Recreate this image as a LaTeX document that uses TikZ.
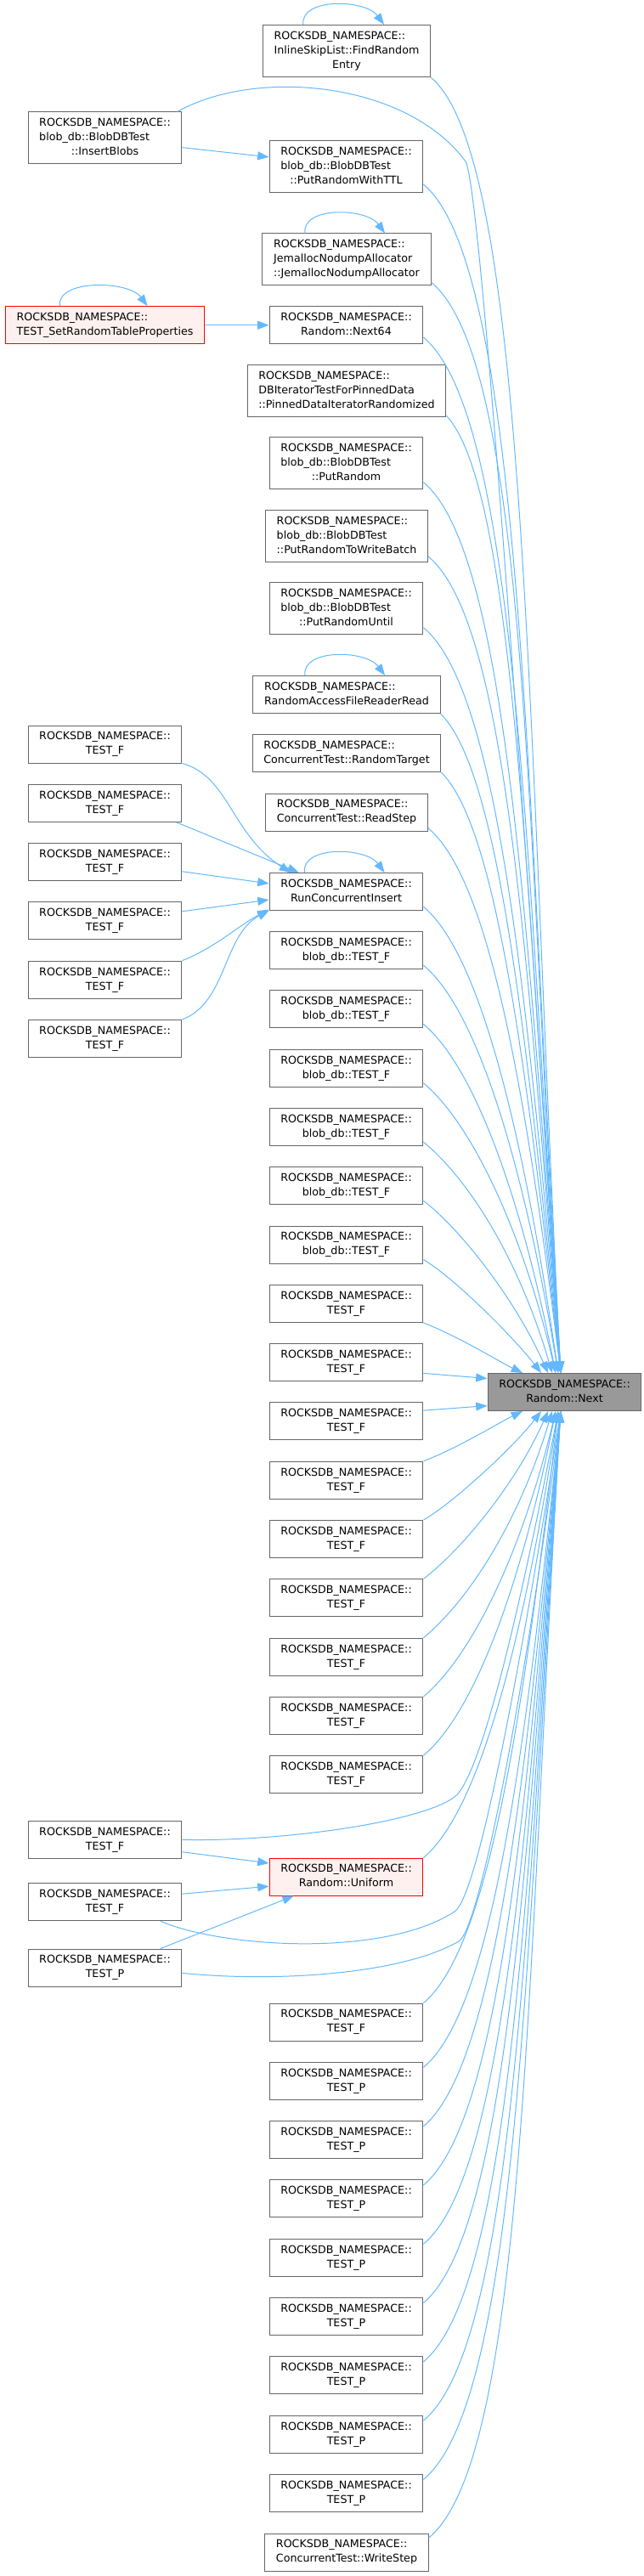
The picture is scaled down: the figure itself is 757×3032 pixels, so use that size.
\documentclass[tikz,border=0pt]{standalone}
\usepackage{fontspec}
\setmainfont{DejaVu Sans}
\usetikzlibrary{arrows.meta}
\definecolor{edgeblue}{HTML}{63B8FF}
\definecolor{boxgrey}{HTML}{666666}
\definecolor{nextfill}{HTML}{999999}
\definecolor{hotfill}{HTML}{FFF0F0}
\newcommand{\fnbox}[1]{\begin{tabular}{@{}l@{}}#1\end{tabular}}
\newcommand{\lastln}[1]{\multicolumn{1}{@{}c@{}}{#1}}

\begin{document}
\begin{tikzpicture}[x=0.75pt,y=-0.75pt,
  fnode/.style={draw=boxgrey, fill=white, line width=0.75pt, inner xsep=9.9pt, inner ysep=3.75pt, font=\fontsize{9.5}{12.75}\selectfont},
  hotnode/.style={fnode, draw=red, fill=hotfill},
  mainnode/.style={fnode, fill=nextfill},
  call/.style={draw=edgeblue, line width=0.75pt, -{Triangle[length=10pt,width=7.5pt]}}]
\useasboundingbox (0,0) rectangle (757,3032);
\node[fnode] (findentry) at (408,60) {\fnbox{ROCKSDB\_NAMESPACE::\\InlineSkipList::FindRandom\\\lastln{Entry}}};
\node[fnode] (insblobs) at (123.5,162.5) {\fnbox{ROCKSDB\_NAMESPACE::\\blob\_db::BlobDBTest\\\lastln{::InsertBlobs}}};
\node[fnode] (putttl) at (407.5,196) {\fnbox{ROCKSDB\_NAMESPACE::\\blob\_db::BlobDBTest\\\lastln{::PutRandomWithTTL}}};
\node[fnode] (jemalloc) at (408,305.5) {\fnbox{ROCKSDB\_NAMESPACE::\\JemallocNodumpAllocator\\\lastln{::JemallocNodumpAllocator}}};
\node[hotnode] (setprops) at (123.5,382.7) {\fnbox{ROCKSDB\_NAMESPACE::\\\lastln{TEST\_SetRandomTableProperties}}};
\node[fnode] (next64) at (407.5,382.7) {\fnbox{ROCKSDB\_NAMESPACE::\\\lastln{Random::Next64}}};
\node[fnode] (pinned) at (408,460) {\fnbox{ROCKSDB\_NAMESPACE::\\DBIteratorTestForPinnedData\\\lastln{::PinnedDataIteratorRandomized}}};
\node[fnode] (putrand) at (407.5,545) {\fnbox{ROCKSDB\_NAMESPACE::\\blob\_db::BlobDBTest\\\lastln{::PutRandom}}};
\node[fnode] (putbatch) at (408,631) {\fnbox{ROCKSDB\_NAMESPACE::\\blob\_db::BlobDBTest\\\lastln{::PutRandomToWriteBatch}}};
\node[fnode] (putuntil) at (407.5,716) {\fnbox{ROCKSDB\_NAMESPACE::\\blob\_db::BlobDBTest\\\lastln{::PutRandomUntil}}};
\node[fnode] (rafread) at (408,817.5) {\fnbox{ROCKSDB\_NAMESPACE::\\\lastln{RandomAccessFileReaderRead}}};
\node[fnode] (randtarget) at (408,886.7) {\fnbox{ROCKSDB\_NAMESPACE::\\\lastln{ConcurrentTest::RandomTarget}}};
\node[fnode] (readstep) at (408,956) {\fnbox{ROCKSDB\_NAMESPACE::\\\lastln{ConcurrentTest::ReadStep}}};
\node[fnode] (runci) at (407.5,1049.5) {\fnbox{ROCKSDB\_NAMESPACE::\\\lastln{RunConcurrentInsert}}};
\node[fnode] (lf1) at (123.5,876) {\fnbox{ROCKSDB\_NAMESPACE::\\\lastln{TEST\_F}}};
\node[fnode] (lf2) at (123.5,945.3) {\fnbox{ROCKSDB\_NAMESPACE::\\\lastln{TEST\_F}}};
\node[fnode] (lf3) at (123.5,1014.6) {\fnbox{ROCKSDB\_NAMESPACE::\\\lastln{TEST\_F}}};
\node[fnode] (lf4) at (123.5,1083.9) {\fnbox{ROCKSDB\_NAMESPACE::\\\lastln{TEST\_F}}};
\node[fnode] (lf5) at (123.5,1153.2) {\fnbox{ROCKSDB\_NAMESPACE::\\\lastln{TEST\_F}}};
\node[fnode] (lf6) at (123.5,1222.5) {\fnbox{ROCKSDB\_NAMESPACE::\\\lastln{TEST\_F}}};
\node[fnode] (bf1) at (407.5,1118.5) {\fnbox{ROCKSDB\_NAMESPACE::\\\lastln{blob\_db::TEST\_F}}};
\node[fnode] (bf2) at (407.5,1187.8) {\fnbox{ROCKSDB\_NAMESPACE::\\\lastln{blob\_db::TEST\_F}}};
\node[fnode] (bf3) at (407.5,1257.1) {\fnbox{ROCKSDB\_NAMESPACE::\\\lastln{blob\_db::TEST\_F}}};
\node[fnode] (bf4) at (407.5,1326.4) {\fnbox{ROCKSDB\_NAMESPACE::\\\lastln{blob\_db::TEST\_F}}};
\node[fnode] (bf5) at (407.5,1395.7) {\fnbox{ROCKSDB\_NAMESPACE::\\\lastln{blob\_db::TEST\_F}}};
\node[fnode] (bf6) at (407.5,1465) {\fnbox{ROCKSDB\_NAMESPACE::\\\lastln{blob\_db::TEST\_F}}};
\node[fnode] (tf1) at (407.5,1534.3) {\fnbox{ROCKSDB\_NAMESPACE::\\\lastln{TEST\_F}}};
\node[fnode] (tf2) at (407.5,1603.6) {\fnbox{ROCKSDB\_NAMESPACE::\\\lastln{TEST\_F}}};
\node[fnode] (tf3) at (407.5,1672.9) {\fnbox{ROCKSDB\_NAMESPACE::\\\lastln{TEST\_F}}};
\node[fnode] (tf4) at (407.5,1742.2) {\fnbox{ROCKSDB\_NAMESPACE::\\\lastln{TEST\_F}}};
\node[fnode] (tf5) at (407.5,1811.5) {\fnbox{ROCKSDB\_NAMESPACE::\\\lastln{TEST\_F}}};
\node[fnode] (tf6) at (407.5,1880.8) {\fnbox{ROCKSDB\_NAMESPACE::\\\lastln{TEST\_F}}};
\node[fnode] (tf7) at (407.5,1950.1) {\fnbox{ROCKSDB\_NAMESPACE::\\\lastln{TEST\_F}}};
\node[fnode] (tf8) at (407.5,2019.4) {\fnbox{ROCKSDB\_NAMESPACE::\\\lastln{TEST\_F}}};
\node[fnode] (tf9) at (407.5,2088.7) {\fnbox{ROCKSDB\_NAMESPACE::\\\lastln{TEST\_F}}};
\node[mainnode] (nextnode) at (664.5,1638.5) {\fnbox{ROCKSDB\_NAMESPACE::\\\lastln{Random::Next}}};
\node[fnode] (ua) at (123.5,2165.3) {\fnbox{ROCKSDB\_NAMESPACE::\\\lastln{TEST\_F}}};
\node[hotnode] (uniform) at (407.5,2209) {\fnbox{ROCKSDB\_NAMESPACE::\\\lastln{Random::Uniform}}};
\node[fnode] (ub) at (123.5,2238.7) {\fnbox{ROCKSDB\_NAMESPACE::\\\lastln{TEST\_F}}};
\node[fnode] (uc) at (123.5,2316) {\fnbox{ROCKSDB\_NAMESPACE::\\\lastln{TEST\_P}}};
\node[fnode] (tf10) at (407.5,2380) {\fnbox{ROCKSDB\_NAMESPACE::\\\lastln{TEST\_F}}};
\node[fnode] (tp1) at (407.5,2449.3) {\fnbox{ROCKSDB\_NAMESPACE::\\\lastln{TEST\_P}}};
\node[fnode] (tp2) at (407.5,2518.6) {\fnbox{ROCKSDB\_NAMESPACE::\\\lastln{TEST\_P}}};
\node[fnode] (tp3) at (407.5,2587.9) {\fnbox{ROCKSDB\_NAMESPACE::\\\lastln{TEST\_P}}};
\node[fnode] (tp4) at (407.5,2657.2) {\fnbox{ROCKSDB\_NAMESPACE::\\\lastln{TEST\_P}}};
\node[fnode] (tp5) at (407.5,2726.5) {\fnbox{ROCKSDB\_NAMESPACE::\\\lastln{TEST\_P}}};
\node[fnode] (tp6) at (407.5,2795.8) {\fnbox{ROCKSDB\_NAMESPACE::\\\lastln{TEST\_P}}};
\node[fnode] (tp7) at (407.5,2865.1) {\fnbox{ROCKSDB\_NAMESPACE::\\\lastln{TEST\_P}}};
\node[fnode] (tp8) at (407.5,2934.4) {\fnbox{ROCKSDB\_NAMESPACE::\\\lastln{TEST\_P}}};
\node[fnode] (writestep) at (408,3004) {\fnbox{ROCKSDB\_NAMESPACE::\\\lastln{ConcurrentTest::WriteStep}}};
\draw[call] ([xshift=-38.3pt]findentry.north) .. controls +(-4,-32) and +(-22,-30) .. ([xshift=33pt]findentry.north);
\draw[call] ([xshift=-36.8pt]jemalloc.north) .. controls +(-4,-32) and +(-22,-30) .. ([xshift=33.8pt]jemalloc.north);
\draw[call] ([xshift=-39.8pt]setprops.north) .. controls +(-4,-32) and +(-22,-30) .. ([xshift=37.5pt]setprops.north);
\draw[call] ([xshift=-36.8pt]rafread.north) .. controls +(-4,-32) and +(-22,-30) .. ([xshift=33.8pt]rafread.north);
\draw[call] ([xshift=-36.8pt]runci.north) .. controls +(-4,-32) and +(-22,-30) .. ([xshift=33.8pt]runci.north);
\draw[call] (insblobs.-7) -- (putttl.173);
\draw[call] (setprops.east) -- (next64.west);
\draw[call] (lf1.south east) .. controls +(55,15) and +(-70,-45) .. (runci.161);
\draw[call] (lf2.-15) -- (runci.158);
\draw[call] (lf3.-7) -- (runci.174);
\draw[call] (lf4.7) -- (runci.-174);
\draw[call] (lf5.north east) .. controls +(40,-16) and +(-36,19) .. (runci.-167);
\draw[call] (lf6.north east) .. controls +(53,-20) and +(-54,28) .. (runci.south west);
\draw[call] (ua.-9) -- (uniform.170);
\draw[call] (ub.6) -- (uniform.-173);
\draw[call] (uc.19) -- (uniform.-160);
\draw[call] (insblobs.20) .. controls (300,80) and (478,95) .. (548,190) .. controls (566,222) and (614,919) .. ([xshift=-3.4pt]nextnode.north);
\draw[call] (findentry.south east) .. controls +(114,95) and +(-40,-762) .. ([xshift=-3.4pt]nextnode.north);
\draw[call] (putttl.-13) .. controls +(114,95) and +(-40,-700) .. ([xshift=-3.4pt]nextnode.north);
\draw[call] (jemalloc.-15) .. controls +(113,94) and +(-40,-642) .. ([xshift=-3.4pt]nextnode.north);
\draw[call] (next64.-9) .. controls +(109,91) and +(-40,-609) .. ([xshift=-3.4pt]nextnode.north);
\draw[call] (pinned.-14) .. controls +(80,86) and +(-40,-563) .. ([xshift=-3.4pt]nextnode.north);
\draw[call] (putrand.-14) .. controls +(98,82) and +(-40,-524) .. ([xshift=-3.4pt]nextnode.north);
\draw[call] (putbatch.-14) .. controls +(94,78) and +(-40,-480) .. ([xshift=-3.4pt]nextnode.north);
\draw[call] (putuntil.-14) .. controls +(89,74) and +(-40,-438) .. ([xshift=-3.4pt]nextnode.north);
\draw[call] (rafread.south east) .. controls +(70,69) and +(-40,-388) .. ([xshift=-3.4pt]nextnode.north);
\draw[call] (randtarget.south east) .. controls +(66,65) and +(-40,-353) .. ([xshift=-3.4pt]nextnode.north);
\draw[call] (readstep.-11) .. controls +(74,62) and +(-40,-320) .. ([xshift=-3.4pt]nextnode.north);
\draw[call] (runci.-11) .. controls +(68,57) and +(-40,-275) .. ([xshift=-5.6pt]nextnode.north);
\draw[call] (bf1.-11) .. controls +(65,54) and +(-40,-240) .. ([xshift=-5.6pt]nextnode.north);
\draw[call] (bf2.-11) .. controls +(60,50) and +(-40,-205) .. ([xshift=-7.9pt]nextnode.north);
\draw[call] (bf3.-11) .. controls +(56,47) and +(-40,-170) .. ([xshift=-7.9pt]nextnode.north);
\draw[call] (bf4.-11) .. controls +(53,44) and +(-40,-136) .. ([xshift=-10.9pt]nextnode.north);
\draw[call] (bf5.-11) .. controls +(40,30) and +(-40,-90) .. ([xshift=-14.6pt]nextnode.north);
\draw[call] (bf6.-11) .. controls +(32,18) and +(-35,-45) .. ([xshift=-20.6pt]nextnode.north);
\draw[call] (tf1.-14) .. controls +(40,15) and +(-25,-12) .. ([xshift=-37.1pt]nextnode.north);
\draw[call] (tf2.-8) -- (nextnode.170);
\draw[call] (tf3.8) -- (nextnode.-170);
\draw[call] (tf4.north east) .. controls +(40,-15) and +(-25,12) .. ([xshift=-37.1pt]nextnode.south);
\draw[call] (tf5.north east) .. controls +(32,-18) and +(-35,45) .. ([xshift=-20.6pt]nextnode.south);
\draw[call] (tf6.north east) .. controls +(40,-30) and +(-40,90) .. ([xshift=-14.6pt]nextnode.south);
\draw[call] (tf7.north east) .. controls +(52,-43) and +(-40,133) .. ([xshift=-10.9pt]nextnode.south);
\draw[call] (tf8.north east) .. controls +(56,-47) and +(-40,168) .. ([xshift=-7.9pt]nextnode.south);
\draw[call] (tf9.north east) .. controls +(60,-50) and +(-40,203) .. ([xshift=-7.9pt]nextnode.south);
\draw[call] (ua.east) .. controls (330,2168) and (495,2145) .. (535,2115) .. controls (567,2091) and (615,1880) .. ([xshift=-5.6pt]nextnode.south);
\draw[call] (uniform.north east) .. controls +(67,-56) and +(-40,263) .. ([xshift=-5.6pt]nextnode.south);
\draw[call] (ub.-19) .. controls (260,2292) and (450,2305) .. (535,2250) .. controls (563,2232) and (615,1950) .. ([xshift=-3.4pt]nextnode.south);
\draw[call] (uc.-4) .. controls (320,2333) and (470,2325) .. (540,2285) .. controls (565,2270) and (620,1980) .. ([xshift=-3.4pt]nextnode.south);
\draw[call] (tf10.north east) .. controls +(78,-65) and +(-40,348) .. ([xshift=-5.6pt]nextnode.south);
\draw[call] (tp1.10) .. controls +(83,-69) and +(-40,386) .. ([xshift=-3.4pt]nextnode.south);
\draw[call] (tp2.10) .. controls +(86,-72) and +(-40,421) .. ([xshift=-3.4pt]nextnode.south);
\draw[call] (tp3.10) .. controls +(91,-76) and +(-40,455) .. ([xshift=-3.4pt]nextnode.south);
\draw[call] (tp4.10) .. controls +(95,-79) and +(-40,490) .. ([xshift=-3.4pt]nextnode.south);
\draw[call] (tp5.10) .. controls +(98,-82) and +(-40,525) .. ([xshift=-3.4pt]nextnode.south);
\draw[call] (tp6.10) .. controls +(103,-86) and +(-40,560) .. ([xshift=-3.4pt]nextnode.south);
\draw[call] (tp7.10) .. controls +(107,-89) and +(-40,594) .. ([xshift=-3.4pt]nextnode.south);
\draw[call] (tp8.10) .. controls +(112,-93) and +(-40,628) .. ([xshift=-3.4pt]nextnode.south);
\draw[call] (writestep.10) .. controls +(114,-95) and +(-40,663) .. ([xshift=-3.4pt]nextnode.south);
\end{tikzpicture}
\end{document}
